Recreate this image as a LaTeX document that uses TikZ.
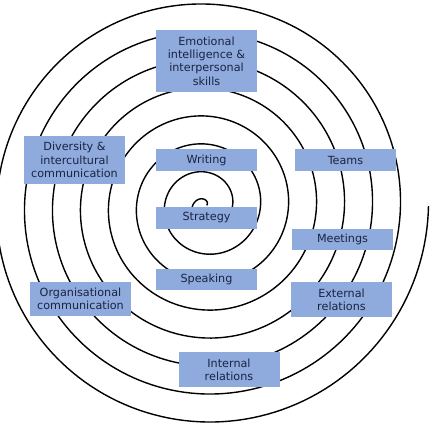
\documentclass[tikz,border=0pt]{standalone}
\usepackage{fontspec}
\setmainfont{DejaVu Sans}
\definecolor{boxblue}{RGB}{143,170,220}
\definecolor{boxtext}{RGB}{26,36,66}
\begin{document}
\begin{tikzpicture}[x=1pt,y=-1pt,
  spiralline/.style={line width=1.4pt, black},
  box/.style={fill=boxblue, text=boxtext, minimum width=101pt, inner sep=0pt,
    align=center, font=\fontsize{11.2}{13.3}\selectfont}]
\useasboundingbox (0,0) rectangle (430,425);
\draw[spiralline] plot[domain=-330:2520, samples=1400, variable=\t]
  ({205.5+(27+0.0777778*\t)*cos(\t)}, {206-(27+0.0777778*\t)*sin(\t)});
\node[box, minimum height=62pt] (emo) at (206.5,61) {Emotional\\intelligence \&\\interpersonal\\skills};
\node[box, minimum height=22pt] (wri) at (206.5,160) {Writing};
\node[box, minimum height=22pt] (str) at (206.5,218) {Strategy};
\node[box, minimum height=21pt] (spe) at (206.5,279.5) {Speaking};
\node[box, minimum height=22pt] (tea) at (345.5,160) {Teams};
\node[box, minimum height=21pt] (mee) at (342.5,239.5) {Meetings};
\node[box, minimum height=35pt] (ext) at (341.5,299.5) {External\\relations};
\node[box, minimum height=35pt] (int) at (229,369.5) {Internal\\relations};
\node[box, minimum height=34pt] (org) at (80.5,299) {Organisational\\communication};
\node[box, minimum height=48pt] (div) at (74.5,160) {Diversity \&\\intercultural\\communication};
\end{tikzpicture}
\end{document}
